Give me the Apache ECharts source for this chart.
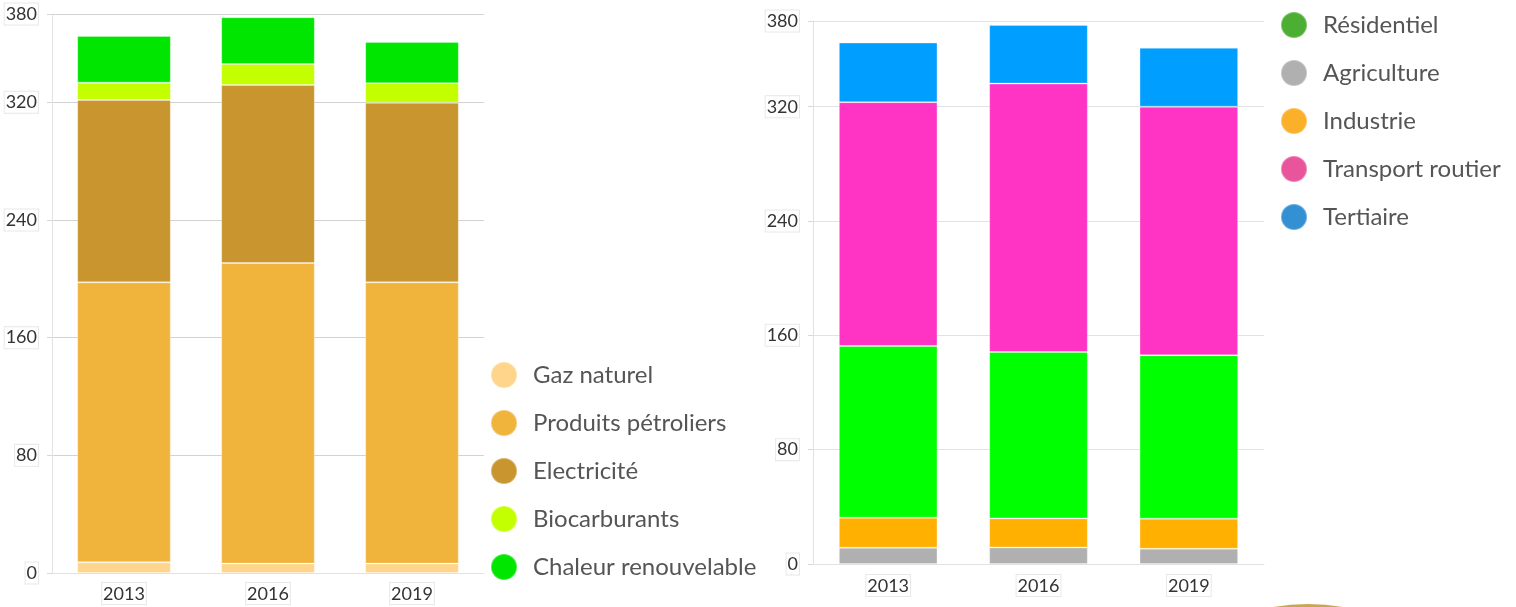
<!DOCTYPE html>
<html>
<head>
<meta charset="utf-8">
<script src="https://cdn.jsdelivr.net/npm/echarts@6/dist/echarts.min.js"></script>
<style>
  html, body { margin: 0; padding: 0; background: #fff; }
  #chart { width: 1516px; height: 607px; }
</style>
</head>
<body>
<div id="chart"></div>
<script>
// Years shared by both charts
const years = ['2013', '2016', '2019'];

// Consumption by energy source (left chart)
const gazNaturel = [7.3, 6.4, 6.4];
const produitsPetroliers = [190.3, 204.3, 191.2];
const electricite = [124.0, 121.1, 122.1];
const biocarburants = [11.7, 14.2, 13.2];
const chaleurRenouvelable = [31.8, 31.8, 28.1];

// Consumption by sector (right chart)
const agriculture = [11.4, 11.6, 10.7];
const industrie = [21.0, 20.3, 21.0];
const residentiel = [120.2, 116.5, 114.4];
const transportRoutier = [170.6, 187.8, 173.9];
const tertiaire = [41.7, 41.0, 41.2];

// Value axis ticks
const yMin = 0;
const yMax = 380;
const yStep = 80;

const FONT = 'Lato, "Noto Sans", sans-serif';

function valueAxis(gridIndex, splitColor) {
  return {
    type: 'value', gridIndex: gridIndex, min: yMin, max: yMax, interval: yStep,
    axisLine: { show: true, lineStyle: { color: '#e2e2e2' } },
    axisTick: { show: true, length: 5, lineStyle: { color: '#d8d8d8' } },
    splitLine: { lineStyle: { color: splitColor, width: 1 } },
    axisLabel: {
      color: '#333', fontFamily: FONT, fontSize: 18, margin: 14,
      borderColor: '#e8e8e8', borderWidth: 1, padding: [2, 1, 1, 1], backgroundColor: '#fff'
    }
  };
}

function categoryAxis(gridIndex, margin) {
  return {
    type: 'category', gridIndex: gridIndex, data: years,
    axisLine: { lineStyle: { color: '#e2e2e2' } },
    axisTick: { show: false },
    axisLabel: {
      color: '#333', fontFamily: FONT, fontSize: 18, margin: margin,
      borderColor: '#e8e8e8', borderWidth: 1, padding: [2, 1, 1, 1], backgroundColor: '#fff'
    }
  };
}

function bar(name, data, color, axis, stack, width) {
  return {
    name: name, type: 'bar', stack: stack, data: data,
    xAxisIndex: axis, yAxisIndex: axis, barWidth: width,
    itemStyle: { color: color, borderColor: 'rgba(255,255,255,0.28)', borderWidth: 1 },
    emphasis: { disabled: true }
  };
}

const legendText = { color: '#555', fontFamily: FONT, fontSize: 24, lineHeight: 26 };

const option = {
  animation: false,
  backgroundColor: '#fff',
  grid: [
    { left: 52, top: 14, width: 432, height: 559 },
    { left: 813, top: 21, width: 451, height: 543 }
  ],
  xAxis: [categoryAxis(0, 10), categoryAxis(1, 11)],
  yAxis: [valueAxis(0, '#d2d2d2'), valueAxis(1, '#e2e2e2')],
  legend: [
    {
      orient: 'vertical', left: 485, top: 356, itemWidth: 48, itemHeight: 26, itemGap: 20,
      icon: 'circle', selectedMode: false, textStyle: legendText,
      data: ['Gaz naturel', 'Produits pétroliers', 'Electricité', 'Biocarburants', 'Chaleur renouvelable']
    },
    {
      orient: 'vertical', left: 1275, top: 6, itemWidth: 48, itemHeight: 26, itemGap: 20,
      icon: 'circle', selectedMode: false, textStyle: legendText,
      data: [
        { name: 'Résidentiel', itemStyle: { color: '#4caf34' } },
        { name: 'Agriculture', itemStyle: { color: '#b0b0b0' } },
        { name: 'Industrie', itemStyle: { color: '#fbb02a' } },
        { name: 'Transport routier', itemStyle: { color: '#e8559a' } },
        { name: 'Tertiaire', itemStyle: { color: '#3391d3' } }
      ]
    }
  ],
  series: [
    bar('Gaz naturel', gazNaturel, '#fed58a', 0, 'energie', '65%'),
    bar('Produits pétroliers', produitsPetroliers, '#f0b43d', 0, 'energie', '65%'),
    bar('Electricité', electricite, '#c9952f', 0, 'energie', '65%'),
    bar('Biocarburants', biocarburants, '#c3ff00', 0, 'energie', '65%'),
    bar('Chaleur renouvelable', chaleurRenouvelable, '#00e600', 0, 'energie', '65%'),
    bar('Agriculture', agriculture, '#b0b0b0', 1, 'secteur', '65.6%'),
    bar('Industrie', industrie, '#ffb000', 1, 'secteur', '65.6%'),
    bar('Résidentiel', residentiel, '#00ff00', 1, 'secteur', '65.6%'),
    bar('Transport routier', transportRoutier, '#ff33c4', 1, 'secteur', '65.6%'),
    bar('Tertiaire', tertiaire, '#009eff', 1, 'secteur', '65.6%')
  ],
  graphic: [
    {
      type: 'circle', shape: { cx: 1308, cy: 808, r: 204 },
      style: {
        fill: {
          type: 'linear', x: 0, y: 0, x2: 0, y2: 1,
          colorStops: [{ offset: 0, color: '#c9a650' }, { offset: 1, color: '#e6cf8f' }]
        }
      },
      silent: true, z: 100
    }
  ]
};

echarts.init(document.getElementById('chart')).setOption(option);
</script>
</body>
</html>
